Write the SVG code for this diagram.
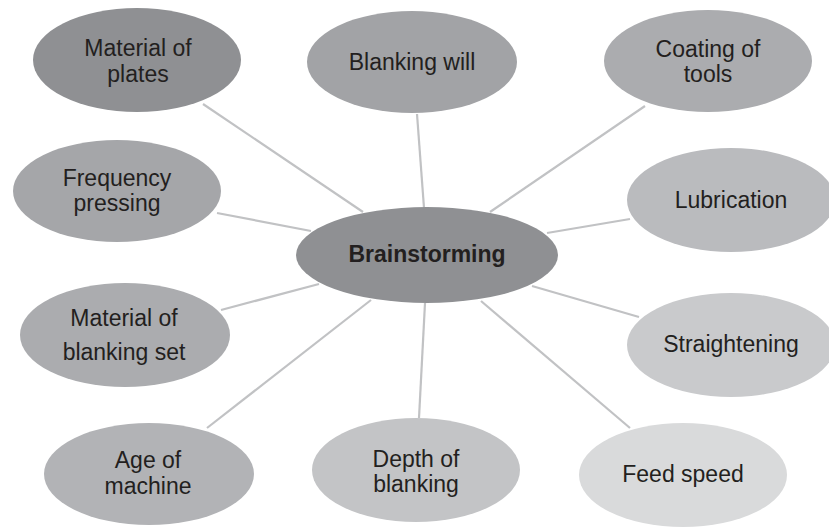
<svg xmlns="http://www.w3.org/2000/svg" width="829" height="527" viewBox="0 0 829 527">
<style>
.t{font-family:"Liberation Sans",Arial,sans-serif;font-size:23px;fill:#231f20;text-anchor:middle}
.b{font-weight:bold}
.c line{stroke:#c1c2c4;stroke-width:2.2}
</style>
<rect width="829" height="527" fill="#ffffff"/>
<g id="connectors" class="c">
<line x1="203" y1="104" x2="363" y2="212"/>
<line x1="217" y1="213" x2="311" y2="231"/>
<line x1="417" y1="114" x2="424" y2="208"/>
<line x1="645" y1="106" x2="490" y2="212"/>
<line x1="630" y1="219" x2="547" y2="233"/>
<line x1="221" y1="310" x2="319" y2="284"/>
<line x1="207" y1="428" x2="371" y2="300"/>
<line x1="425" y1="303" x2="419" y2="418"/>
<line x1="532" y1="286" x2="639" y2="317"/>
<line x1="481" y1="301" x2="630" y2="428"/>
</g>
<g id="material-of-plates"><ellipse cx="137" cy="60" rx="104" ry="52" fill="#8f9093"/><text class="t" x="138" y="56">Material of</text><text class="t" x="138" y="82">plates</text></g>
<g id="blanking-will"><ellipse cx="412" cy="62" rx="105" ry="51" fill="#a2a3a6"/><text class="t" x="412" y="70">Blanking will</text></g>
<g id="coating-of-tools"><ellipse cx="708" cy="61" rx="104" ry="51" fill="#abacaf"/><text class="t" x="708" y="57">Coating of</text><text class="t" x="708" y="82">tools</text></g>
<g id="frequency-pressing"><ellipse cx="117" cy="191" rx="104" ry="51" fill="#a5a6a9"/><text class="t" x="117" y="186">Frequency</text><text class="t" x="117" y="211">pressing</text></g>
<g id="lubrication"><ellipse cx="731" cy="200" rx="104" ry="52" fill="#babbbe"/><text class="t" x="731" y="208">Lubrication</text></g>
<g id="brainstorming"><ellipse cx="427" cy="255" rx="131" ry="48" fill="#8f9093"/><text class="t b" x="427" y="262">Brainstorming</text></g>
<g id="material-of-blanking-set"><ellipse cx="125" cy="335" rx="105" ry="52" fill="#abacaf"/><text class="t" x="124" y="326">Material of</text><text class="t" x="124" y="360">blanking set</text></g>
<g id="straightening"><ellipse cx="731" cy="345" rx="104" ry="52" fill="#c9cacc"/><text class="t" x="731" y="352">Straightening</text></g>
<g id="age-of-machine"><ellipse cx="149" cy="474" rx="105" ry="51" fill="#b2b3b6"/><text class="t" x="148" y="468">Age of</text><text class="t" x="148" y="494">machine</text></g>
<g id="depth-of-blanking"><ellipse cx="416" cy="470" rx="104" ry="52" fill="#c3c4c6"/><text class="t" x="416" y="467">Depth of</text><text class="t" x="416" y="492">blanking</text></g>
<g id="feed-speed"><ellipse cx="683" cy="475" rx="104" ry="52" fill="#d9dadb"/><text class="t" x="683" y="482">Feed speed</text></g>
</svg>
